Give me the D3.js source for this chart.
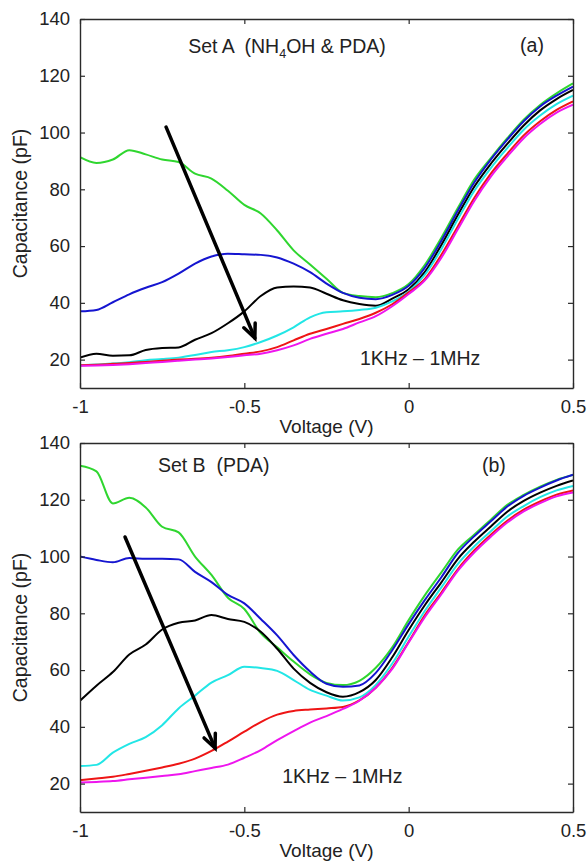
<!DOCTYPE html>
<html>
<head>
<meta charset="utf-8">
<script src="https://cdn.jsdelivr.net/npm/d3@7"></script>
<style>
  html, body { margin: 0; padding: 0; background: #fff; }
  svg { display: block; }
  text { font-family: "Liberation Sans", Arial, sans-serif; fill: #222; white-space: pre; }
</style>
</head>
<body>
<svg id="chart" width="587" height="862"></svg>
<script>
// ---------- DATA ----------
const voltage = [-1.00,-0.95,-0.90,-0.85,-0.80,-0.75,-0.70,-0.65,-0.60,-0.55,-0.50,-0.45,-0.40,-0.35,-0.30,-0.25,-0.20,-0.15,-0.10,-0.05,0.00,0.05,0.10,0.15,0.20,0.25,0.30,0.35,0.40,0.45,0.50];

// Set A (NH4OH & PDA)
const greenA   = [91.3,89.3,90.5,93.8,92.3,90.5,89.6,85.5,83.8,79.5,74.5,71.5,65.5,58.5,53.5,48.5,43.5,42.4,42.0,43.4,46.6,53.5,63.0,73.5,83.5,91.0,98.0,104.5,109.7,113.8,117.3];
const blueA    = [37.0,37.5,40.2,43.0,45.3,47.3,50.3,53.8,56.3,57.3,57.1,56.9,56.0,53.8,50.8,46.8,43.5,41.8,41.3,42.8,46.0,52.5,62.0,72.5,82.5,90.5,97.5,104.0,109.2,113.0,116.2];
const blackA   = [20.7,22.1,21.4,21.5,23.4,24.1,24.3,27.0,29.3,32.8,37.0,42.4,45.4,45.8,45.4,43.2,40.9,39.6,39.0,41.5,44.8,51.0,60.5,71.0,81.0,89.0,96.0,102.5,107.8,111.8,115.0];
const cyanA    = [18.0,18.3,18.6,19.1,19.8,20.2,20.7,21.6,22.7,23.3,24.4,26.2,28.5,31.4,34.9,36.7,37.0,37.5,38.3,40.5,44.0,50.0,59.0,69.5,79.5,87.5,94.5,101.0,106.0,110.0,113.0];
const redA     = [18.0,18.2,18.5,18.8,19.2,19.6,20.0,20.3,20.7,21.3,22.1,22.9,24.4,26.8,29.1,30.8,32.6,34.3,36.5,39.5,43.7,48.5,57.0,67.0,77.0,85.5,92.5,99.0,104.0,108.0,111.0];
const magentaA = [17.8,17.9,18.1,18.4,18.8,19.2,19.6,20.0,20.4,20.9,21.5,22.1,23.3,25.0,27.3,29.1,30.8,33.1,35.3,38.8,43.1,48.0,56.0,66.0,76.0,84.5,91.5,98.0,103.0,107.0,109.8];

// Set B (PDA)
const greenB   = [132.0,130.0,118.7,120.7,117.3,110.5,108.5,100.0,93.5,85.5,81.5,73.0,68.0,63.0,58.5,55.5,54.7,56.2,60.8,68.0,77.6,86.5,94.5,102.5,107.8,113.0,118.2,121.7,124.6,127.0,128.7];
const blueB    = [100.0,98.8,98.0,99.5,99.2,99.2,99.0,94.6,91.0,86.5,83.5,78.0,72.2,65.3,59.5,55.2,54.1,54.6,59.0,67.0,76.2,84.8,92.8,101.3,107.2,112.4,117.6,121.4,124.3,126.8,128.8];
const blackB   = [49.2,54.5,59.3,65.5,69.0,74.3,76.7,77.5,79.4,78.0,77.0,73.5,67.5,60.5,55.5,52.2,50.6,52.2,56.5,64.5,74.1,83.0,91.0,99.2,105.3,110.6,115.8,119.6,122.5,124.9,126.8];
const cyanB    = [26.2,26.6,30.9,34.0,36.4,40.6,46.5,51.0,55.6,58.2,61.2,60.7,59.7,56.5,53.0,51.0,49.3,50.4,54.8,62.3,71.8,81.0,89.2,97.4,103.6,108.9,114.1,117.8,120.9,123.3,124.9];
const redB     = [21.2,21.8,22.4,23.4,24.5,25.7,27.0,28.8,31.5,34.8,38.3,41.7,44.3,45.6,46.1,46.5,47.0,49.3,53.8,60.8,70.0,79.5,87.4,95.6,102.2,107.7,112.6,116.5,119.4,121.8,123.3];
const magentaB = [20.4,20.6,20.9,21.5,22.1,22.7,23.3,24.4,25.5,26.7,29.1,31.8,35.3,38.5,41.5,43.8,46.3,49.2,53.8,60.4,69.7,78.8,86.8,95.0,101.5,107.0,112.0,115.9,118.8,121.2,122.6];

const seriesColors = ["#2fd62f", "#1515d0", "#000000", "#22e6e6", "#ee1515", "#ee15ee"];

const xTicks = [-1, -0.5, 0, 0.5];
const xTickLabels = ["-1", "-0.5", "0", "0.5"];
const yTicks = [20, 40, 60, 80, 100, 120, 140];

// arrows [x0, y0, x1, y1] in data units
const arrowA = [-0.738, 101.9, -0.468, 27.6];
const arrowB = [-0.863, 106.9, -0.589, 32.5];

const panels = [
  { series: [greenA, blueA, blackA, cyanA, redA, magentaA], top: 19, bottom: 388,
    title: "A", titlePos: [-0.671, 128.0], tag: "(a)", tagPos: [0.339, 128.3],
    freqPos: [-0.148, 18.1], arrow: arrowA, labelY: 433 },
  { series: [greenB, blueB, blackB, cyanB, redB, magentaB], top: 443, bottom: 812,
    title: "B", titlePos: [-0.763, 129.8], tag: "(b)", tagPos: [0.223, 129.8],
    freqPos: [-0.385, 20.2], arrow: arrowB, labelY: 857 }
];

// ---------- DRAW ----------
const svg = d3.select("#chart");
const left = 80, right = 573;

panels.forEach(p => {
  const x = d3.scaleLinear().domain([-1, 0.5]).range([left, right]);
  const y = d3.scaleLinear().domain([10, 140]).range([p.bottom, p.top]);
  const g = svg.append("g");

  const cid = "clip" + p.title;
  svg.append("clipPath").attr("id", cid).append("rect")
    .attr("x", left).attr("y", p.top).attr("width", right - left).attr("height", p.bottom - p.top);

  // curves
  const line = d3.line().x((d, i) => x(voltage[i])).y(d => y(d)).curve(d3.curveMonotoneX);
  const cg = g.append("g").attr("clip-path", `url(#${cid})`);
  p.series.forEach((s, k) => {
    cg.append("path").datum(s)
      .attr("d", line)
      .attr("fill", "none")
      .attr("stroke", seriesColors[k])
      .attr("stroke-width", 2)
      .attr("stroke-linejoin", "round");
  });

  // axes (inward ticks, MATLAB style box)
  const tl = 5;
  const axB = d3.axisBottom(x).tickValues(xTicks).tickFormat((d, i) => xTickLabels[i]).tickSizeInner(-tl).tickSizeOuter(0).tickPadding(12);
  const axT = d3.axisTop(x).tickValues(xTicks).tickFormat("").tickSizeInner(-tl).tickSizeOuter(0);
  const axL = d3.axisLeft(y).tickValues(yTicks).tickSizeInner(-tl).tickSizeOuter(0).tickPadding(10);
  const axR = d3.axisRight(y).tickValues(yTicks).tickFormat("").tickSizeInner(-tl).tickSizeOuter(0);

  const styleAx = sel => {
    sel.selectAll("path.domain").attr("stroke", "#2a2a2a").attr("stroke-width", 1.4);
    sel.selectAll(".tick line").attr("stroke", "#2a2a2a").attr("stroke-width", 1.2);
    sel.selectAll(".tick text").attr("font-size", 18.5).attr("fill", "#222")
      .attr("font-family", '"Liberation Sans", Arial, sans-serif');
  };
  g.append("g").attr("transform", `translate(0,${p.bottom})`).call(axB).call(styleAx);
  g.append("g").attr("transform", `translate(0,${p.top})`).call(axT).call(styleAx);
  g.append("g").attr("transform", `translate(${left},0)`).call(axL).call(styleAx);
  g.append("g").attr("transform", `translate(${right},0)`).call(axR).call(styleAx);

  // axis labels
  g.append("text").attr("x", (left + right) / 2).attr("y", p.labelY)
    .attr("text-anchor", "middle").attr("font-size", 19).text("Voltage (V)");
  g.append("text").attr("transform", `translate(27,${(p.top + p.bottom) / 2}) rotate(-90)`)
    .attr("text-anchor", "middle").attr("font-size", 19.5).text("Capacitance (pF)");

  // annotations
  const t = g.append("text").attr("x", x(p.titlePos[0])).attr("y", y(p.titlePos[1]))
    .attr("font-size", 19.5).attr("xml:space", "preserve");
  if (p.title === "A") {
    t.append("tspan").text("Set A  (NH");
    t.append("tspan").attr("font-size", 12.5).attr("dy", 5).text("4");
    t.append("tspan").attr("dy", -5).text("OH & PDA)");
  } else {
    t.text("Set B  (PDA)");
  }
  g.append("text").attr("x", x(p.tagPos[0])).attr("y", y(p.tagPos[1])).attr("font-size", 19.5).text(p.tag);
  g.append("text").attr("x", x(p.freqPos[0])).attr("y", y(p.freqPos[1])).attr("font-size", 19.5).text("1KHz \u2013 1MHz");

  // arrow
  const [ax0, ay0, ax1, ay1] = p.arrow;
  const X0 = x(ax0), Y0 = y(ay0), X1 = x(ax1), Y1 = y(ay1);
  g.append("line").attr("x1", X0).attr("y1", Y0).attr("x2", X1).attr("y2", Y1)
    .attr("stroke", "#000").attr("stroke-width", 3.5).attr("stroke-linecap", "round");
  const ang = Math.atan2(Y1 - Y0, X1 - X0);
  const hl = 15, ha = 0.42;
  const hp = [ang + Math.PI - ha, ang + Math.PI + ha].map(a => [X1 + hl * Math.cos(a), Y1 + hl * Math.sin(a)]);
  g.append("path").attr("d", `M${hp[0][0]},${hp[0][1]}L${X1},${Y1}L${hp[1][0]},${hp[1][1]}`)
    .attr("fill", "none").attr("stroke", "#000").attr("stroke-width", 3.5)
    .attr("stroke-linecap", "round").attr("stroke-linejoin", "miter");
});
</script>
</body>
</html>
